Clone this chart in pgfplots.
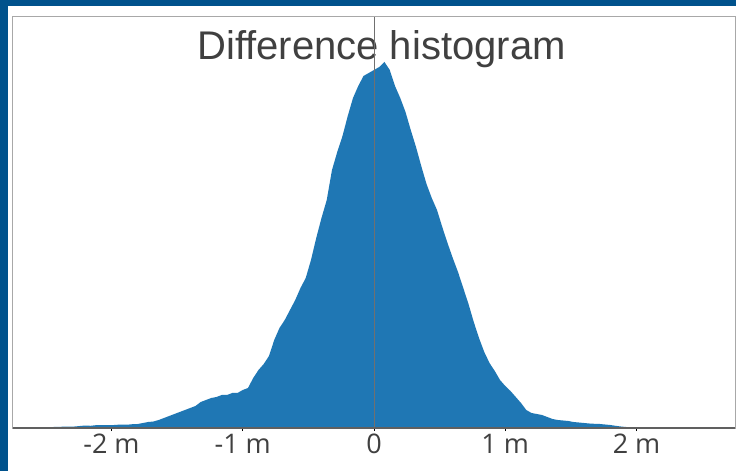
\documentclass[border=0pt]{standalone}
\usepackage{pgfplots}
\pgfplotsset{compat=1.18}
\usepackage{fontspec}
\setmainfont{Open Sans}
\newfontfamily\titlefont{Liberation Sans}
\definecolor{frameblue}{HTML}{00528C}
\definecolor{histblue}{HTML}{1F77B4}
\definecolor{txtgray}{HTML}{404040}
\definecolor{zeroline}{HTML}{707070}
\definecolor{spine}{HTML}{A8A8A8}
\definecolor{bottomspine}{HTML}{606060}
\begin{document}
\begin{tikzpicture}[x=1pt,y=1pt]
\useasboundingbox (0,0) rectangle (736,471);
\fill[frameblue] (0,0) rectangle (736,471);
\fill[white] (8,0) rectangle (736,465);
\node[font=\titlefont\fontsize{40}{48}\selectfont, text=txtgray, anchor=base] at (381.5,411) {Difference histogram};
\begin{axis}[
  at={(13pt,43pt)}, anchor=south west,
  width=722pt, height=411pt, scale only axis,
  xmin=-2.75, xmax=2.75, ymin=0, ymax=411,
  ytick=\empty,
  xtick={-2,-1,0,1,2},
  xticklabels={-2 m,-1 m,0,1 m,2 m},
  xtick pos=bottom,
  tick align=outside, major tick length=3pt,
  xtick style={draw=black, line width=0.8pt},
  axis line style={draw=spine, line width=1pt},
  xticklabel style={font=\fontsize{27}{30}\selectfont, text=txtgray, anchor=base, yshift=-22pt},
]
\addplot[fill=histblue, draw=none] coordinates {
(-2.52,0.8) (-2.48,1) (-2.44,1) (-2.40,1.2) (-2.36,1.3) (-2.32,1.5) (-2.28,1.5)
(-2.24,2) (-2.20,2.5) (-2.16,2.2) (-2.12,2.8) (-2.08,3) (-2.04,3) (-2.00,2.8)
(-1.96,3.2) (-1.92,3.5) (-1.88,3.3) (-1.84,3.8) (-1.80,4) (-1.76,5) (-1.72,6)
(-1.68,6.5) (-1.64,8) (-1.60,10) (-1.56,12) (-1.52,14) (-1.48,16) (-1.44,18)
(-1.40,20) (-1.36,22) (-1.32,26) (-1.28,28) (-1.24,30) (-1.20,31) (-1.16,33)
(-1.12,33) (-1.08,35) (-1.04,35) (-1.00,38) (-0.96,40) (-0.92,50) (-0.88,58)
(-0.84,64) (-0.80,72) (-0.76,88) (-0.72,100) (-0.68,108) (-0.64,118) (-0.60,128)
(-0.56,140) (-0.52,150) (-0.48,168) (-0.44,190) (-0.40,210) (-0.36,228) (-0.32,258)
(-0.28,276) (-0.24,292) (-0.20,312) (-0.16,330) (-0.12,342) (-0.08,352) (-0.04,355)
(0.00,358) (0.04,361) (0.08,366) (0.12,358) (0.16,342) (0.20,330) (0.24,316)
(0.28,298) (0.32,281) (0.36,262) (0.40,244) (0.44,230) (0.48,218) (0.52,201)
(0.56,185) (0.60,170) (0.64,156) (0.68,140) (0.72,124) (0.76,106) (0.80,90)
(0.84,76) (0.88,65) (0.92,57) (0.96,48) (1.00,42) (1.04,37) (1.08,31)
(1.12,25) (1.16,18) (1.20,15) (1.24,14) (1.28,13) (1.32,11) (1.36,9)
(1.40,8) (1.44,7.5) (1.48,7) (1.52,6) (1.56,5.5) (1.60,5) (1.64,4.5)
(1.68,4.2) (1.72,4) (1.76,3.5) (1.80,3) (1.84,2.2) (1.88,1.5) (1.92,1)
(1.96,0.7) (2.00,0.4) (2.04,0)
} \closedcycle;
\draw[zeroline, line width=1pt] (axis cs:0,0) -- (axis cs:0,411);
\draw[bottomspine, line width=1.2pt] (rel axis cs:0,0) -- (rel axis cs:1,0);
\end{axis}
\end{tikzpicture}
\end{document}
